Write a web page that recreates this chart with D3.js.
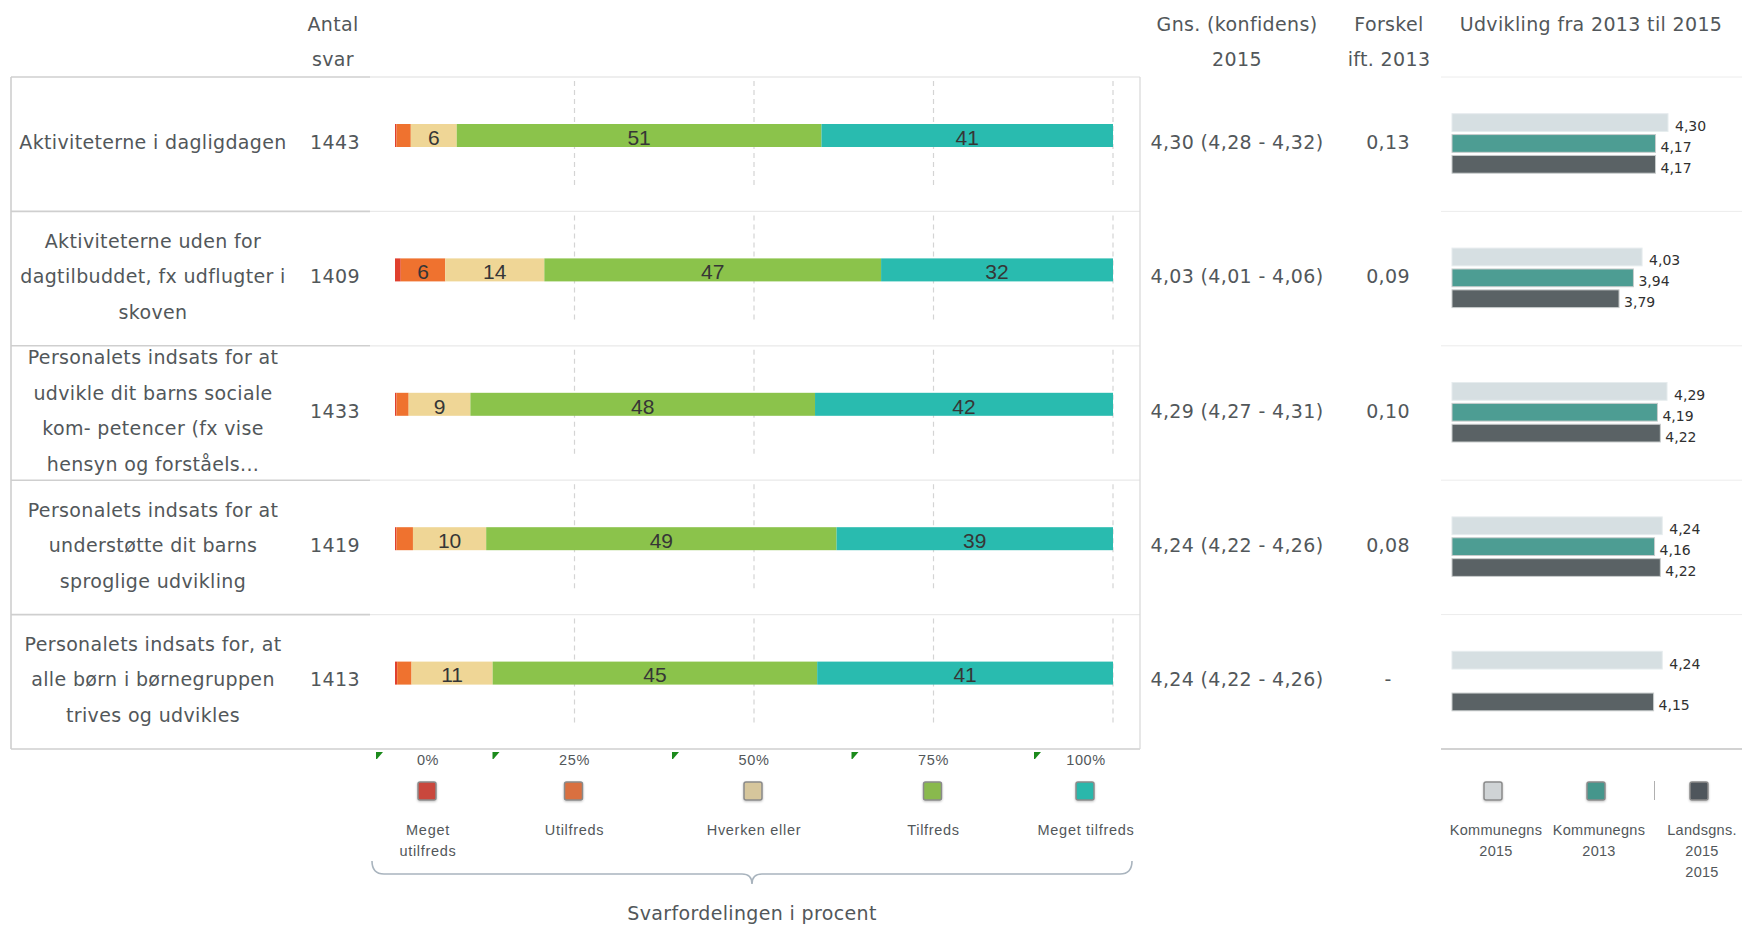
<!DOCTYPE html>
<html><head><meta charset="utf-8">
<script src="https://cdn.jsdelivr.net/npm/d3@7"></script>
<style>body{margin:0;background:#fff;} svg{display:block;}</style>
</head><body>
<svg id="chart" width="1742" height="925"></svg>
<script>
// ---------------- DATA ----------------
const categories = [
  ["Aktiviteterne i dagligdagen"],
  ["Aktiviteterne uden for", "dagtilbuddet, fx udflugter i", "skoven"],
  ["Personalets indsats for at", "udvikle dit barns sociale", "kom- petencer (fx vise", "hensyn og forståels..."],
  ["Personalets indsats for at", "understøtte dit barns", "sproglige udvikling"],
  ["Personalets indsats for, at", "alle børn i børnegruppen", "trives og udvikles"]
];
const antalSvar = [1443, 1409, 1433, 1419, 1413];
const responseKeys = ["Meget utilfreds", "Utilfreds", "Hverken eller", "Tilfreds", "Meget tilfreds"];
const responseLegendLabels = [["Meget", "utilfreds"], ["Utilfreds"], ["Hverken eller"], ["Tilfreds"], ["Meget tilfreds"]];
const megetUtilfreds = [0.2, 0.8, 0.2, 0.2, 0.3];
const utilfreds      = [2.0, 6.2, 1.7, 2.3, 2.0];
const hverkenEller   = [6.4, 13.8, 8.6, 10.2, 11.3];
const tilfreds       = [50.8, 46.9, 48.0, 48.8, 45.2];
const megetTilfreds  = [40.6, 32.3, 41.5, 38.5, 41.2];
const percentTicks = [0, 25, 50, 75, 100];
const gnsMean = [4.30, 4.03, 4.29, 4.24, 4.24];
const gnsLow  = [4.28, 4.01, 4.27, 4.22, 4.22];
const gnsHigh = [4.32, 4.06, 4.31, 4.26, 4.26];
const forskel = [0.13, 0.09, 0.10, 0.08, null];
const devKeys = ["Kommunegns 2015", "Kommunegns 2013", "Landsgns. 2015"];
const devLegendLabels = [["Kommunegns", "2015"], ["Kommunegns", "2013"], ["Landsgns.", "2015", "2015"]];
const kommune2015 = [4.30, 4.03, 4.29, 4.24, 4.24];
const kommune2013 = [4.17, 3.94, 4.19, 4.16, null];
const lands2015   = [4.17, 3.79, 4.22, 4.22, 4.15];

// ---------------- SETUP ----------------
const svg = d3.select("#chart");
const TXT = "#52575a";
const mainFont = "'DejaVu Sans', sans-serif";
const MAIN_SIZE = 19, MAIN_LS = 0.35;
const smallFont = "'Liberation Sans', Arial, sans-serif";
const narrowFont = "'Liberation Sans Narrow', 'Liberation Sans', sans-serif";
const loc = d3.formatLocale({decimal: ",", thousands: ".", grouping: [3], currency: ["", ""]});
const f2 = loc.format(".2f");

const respColors = d3.scaleOrdinal().domain(responseKeys)
  .range(["#e0402e", "#ef722f", "#efd696", "#8bc34b", "#29bbaf"]);
const respLegendColors = d3.scaleOrdinal().domain(responseKeys)
  .range(["#c9473d", "#d9703f", "#d6c69c", "#89b94e", "#2bb7ab"]);
const devColors = d3.scaleOrdinal().domain(devKeys).range(["#d6dfe2", "#4d9d93", "#5a6265"]);
const devLegendColors = d3.scaleOrdinal().domain(devKeys).range(["#cfd3d5", "#44968c", "#4f575b"]);

const y = d3.scaleBand().domain(d3.range(categories.length)).range([77, 749]);
const x = d3.scaleLinear().domain([0, 100]).range([395, 1113]);
const xr = d3.scaleLinear().domain([2.05, 4.30]).range([1452, 1668]);
const sub = d3.scaleBand().domain(devKeys).range([-30.5, 29]).paddingInner(0.15);

const rowCenter = i => y(i) + y.bandwidth() / 2;

const defs = svg.append("defs");
const sh = defs.append("filter").attr("id", "shadow").attr("x", "-40%").attr("y", "-40%").attr("width", "180%").attr("height", "180%");
sh.append("feDropShadow").attr("dx", 0).attr("dy", 1).attr("stdDeviation", 1.2).attr("flood-color", "#000").attr("flood-opacity", 0.25);

function mainText(sel) {
  return sel.attr("font-family", mainFont).attr("font-size", MAIN_SIZE)
    .attr("letter-spacing", MAIN_LS).attr("fill", TXT).attr("text-anchor", "middle").attr("dy", "0.35em");
}

// ---------------- HEADERS ----------------
const headers = [
  {x: 333, lines: ["Antal", "svar"]},
  {x: 1237, lines: ["Gns. (konfidens)", "2015"]},
  {x: 1389, lines: ["Forskel", "ift. 2013"]},
  {x: 1591, lines: ["Udvikling fra 2013 til 2015"]}
];
headers.forEach(h => {
  h.lines.forEach((l, k) => {
    svg.append("text").attr("x", h.x).attr("y", 24 + k * 35).call(mainText).text(l);
  });
});

// ---------------- TABLE LINES ----------------
const bounds = d3.range(categories.length + 1).map(i => i < categories.length ? y(i) : y.range()[1]);
const lines = svg.append("g");
bounds.forEach((b, i) => {
  lines.append("line").attr("x1", 11).attr("x2", 370).attr("y1", b).attr("y2", b)
    .attr("stroke", "#cfcfcf").attr("stroke-width", 1.6);
  lines.append("line").attr("x1", 370).attr("x2", 1140).attr("y1", b).attr("y2", b)
    .attr("stroke", i === bounds.length - 1 ? "#cfcfcf" : "#e9e9e9").attr("stroke-width", 1.3);
  lines.append("line").attr("x1", 1441).attr("x2", 1742).attr("y1", b).attr("y2", b)
    .attr("stroke", i === bounds.length - 1 ? "#d2d2d2" : "#ececec").attr("stroke-width", i === bounds.length - 1 ? 2 : 1);
});
lines.append("line").attr("x1", 11).attr("x2", 11).attr("y1", 77).attr("y2", 749).attr("stroke", "#cfcfcf").attr("stroke-width", 1.6);
lines.append("line").attr("x1", 1140).attr("x2", 1140).attr("y1", 77).attr("y2", 749).attr("stroke", "#dadada").attr("stroke-width", 1.3);

// ---------------- GRIDLINES ----------------
const grid = svg.append("g");
categories.forEach((c, i) => {
  grid.selectAll(null).data(percentTicks.filter(t => t > 0)).enter().append("line")
    .attr("x1", d => x(d)).attr("x2", d => x(d))
    .attr("y1", y(i) + 4).attr("y2", y(i) + 111)
    .attr("stroke", "#d4d4d4").attr("stroke-width", 1.2).attr("stroke-dasharray", "5,4");
});

// ---------------- ROW LABELS & COLUMNS ----------------
categories.forEach((lns, i) => {
  const cy = rowCenter(i) - 2;
  const n = lns.length;
  lns.forEach((l, k) => {
    svg.append("text").attr("x", 153).attr("y", cy + (k - (n - 1) / 2) * 35.5).call(mainText).text(l);
  });
  svg.append("text").attr("x", 335).attr("y", cy).call(mainText).text(antalSvar[i]);
  svg.append("text").attr("x", 1237).attr("y", cy).call(mainText)
    .text(`${f2(gnsMean[i])} (${f2(gnsLow[i])} - ${f2(gnsHigh[i])})`);
  svg.append("text").attr("x", 1388).attr("y", cy).call(mainText)
    .text(forskel[i] == null ? "-" : f2(forskel[i]));
});

// ---------------- STACKED BARS ----------------
const rows = categories.map((c, i) => ({
  idx: i,
  "Meget utilfreds": megetUtilfreds[i], "Utilfreds": utilfreds[i], "Hverken eller": hverkenEller[i],
  "Tilfreds": tilfreds[i], "Meget tilfreds": megetTilfreds[i]
}));
const stacked = d3.stack().keys(responseKeys)(rows);
const barH = 23;
const barY = i => y(i) + 58.5 - barH / 2;
const layers = svg.append("g").selectAll("g").data(stacked).enter().append("g")
  .attr("fill", d => respColors(d.key));
layers.selectAll("rect").data(d => d).enter().append("rect")
  .attr("x", d => x(d[0])).attr("width", d => x(d[1]) - x(d[0]))
  .attr("y", d => barY(d.data.idx)).attr("height", barH);
const labG = svg.append("g");
stacked.forEach(layer => {
  layer.forEach(d => {
    const v = d[1] - d[0];
    if (v >= 5) {
      labG.append("text").attr("x", (x(d[0]) + x(d[1])) / 2).attr("y", barY(d.data.idx) + barH / 2 + 2)
        .attr("dy", "0.35em").attr("text-anchor", "middle").attr("font-family", narrowFont)
        .attr("font-size", 21).attr("fill", "#363636").text(Math.round(v));
    }
  });
});

// ---------------- PERCENT TICK LABELS & LEGEND ----------------
const legendPos = v => Math.max(x(0) + 33, Math.min(x(100) - 27, x(v)));
percentTicks.forEach((t, k) => {
  const px = legendPos(t);
  svg.append("text").attr("x", px).attr("y", 760).attr("dy", "0.35em").attr("text-anchor", "middle")
    .attr("font-family", smallFont).attr("font-size", 14.5).attr("letter-spacing", 0.6)
    .attr("fill", TXT).text(t + "%");
  const tx = px - ((t === 0 || t === 100) ? 52 : 82);
  svg.append("path").attr("d", `M${tx},752 L${tx + 7},752 L${tx + 1},759 L${tx},759 Z`).attr("fill", "#1b8a1b");
  const key = responseKeys[k];
  svg.append("rect").attr("x", px - 10).attr("y", 782).attr("width", 18).attr("height", 18).attr("rx", 2)
    .attr("fill", respLegendColors(key)).attr("stroke", "#8a8a8a").attr("stroke-width", 1.5)
    .attr("filter", "url(#shadow)");
  responseLegendLabels[k].forEach((l, j) => {
    svg.append("text").attr("x", px).attr("y", 830 + j * 21).attr("dy", "0.35em").attr("text-anchor", "middle")
      .attr("font-family", smallFont).attr("font-size", 14.5).attr("letter-spacing", 0.7)
      .attr("fill", TXT).text(l);
  });
});

// bracket
const bx0 = x(0) - 23, bx1 = x(100) + 19, bm = (bx0 + bx1) / 2;
svg.append("path")
  .attr("d", `M${bx0},861 Q${bx0},874 ${bx0 + 12},874 L${bm - 10},874 Q${bm},874 ${bm},884 Q${bm},874 ${bm + 10},874 L${bx1 - 12},874 Q${bx1},874 ${bx1},861`)
  .attr("fill", "none").attr("stroke", "#a9b4be").attr("stroke-width", 1.6);
svg.append("text").attr("x", bm).attr("y", 913).call(mainText).text("Svarfordelingen i procent");

// ---------------- DEVELOPMENT BARS ----------------
const devSeries = {"Kommunegns 2015": kommune2015, "Kommunegns 2013": kommune2013, "Landsgns. 2015": lands2015};
const devG = svg.append("g");
categories.forEach((c, i) => {
  devKeys.forEach(k => {
    const v = devSeries[k][i];
    if (v == null) return;
    const by = rowCenter(i) + sub(k);
    devG.append("rect").attr("x", xr.range()[0]).attr("y", by).attr("width", xr(v) - xr.range()[0])
      .attr("height", sub.bandwidth()).attr("fill", devColors(k))
      .attr("stroke", k === devKeys[0] ? "#e6ecee" : "#c8cccc").attr("stroke-width", 1);
    devG.append("text").attr("x", xr(v) + (k === devKeys[0] ? 7 : 5)).attr("y", by + sub.bandwidth() / 2 + 3.5)
      .attr("dy", "0.35em").attr("font-family", mainFont).attr("font-size", 14).attr("fill", "#303030")
      .text(f2(v));
  });
});

// dev legend
const devLeg = d3.scalePoint().domain(devKeys).range([1494, 1700]);
devKeys.forEach((k, j) => {
  const px = devLeg(k);
  svg.append("rect").attr("x", px - 10).attr("y", 782).attr("width", 18).attr("height", 18).attr("rx", 2)
    .attr("fill", devLegendColors(k)).attr("stroke", "#8a8a8a").attr("stroke-width", 1.5)
    .attr("filter", "url(#shadow)");
  devLegendLabels[j].forEach((l, m) => {
    svg.append("text").attr("x", px + 2).attr("y", 830 + m * 21).attr("dy", "0.35em").attr("text-anchor", "middle")
      .attr("font-family", smallFont).attr("font-size", 14.5).attr("letter-spacing", 0.3)
      .attr("fill", TXT).text(l);
  });
});
svg.append("line").attr("x1", (devLeg(devKeys[1]) + devLeg(devKeys[2])) / 2 + 6).attr("x2", (devLeg(devKeys[1]) + devLeg(devKeys[2])) / 2 + 6)
  .attr("y1", 781).attr("y2", 800).attr("stroke", "#b0b0b0").attr("stroke-width", 1);
</script>
</body></html>
